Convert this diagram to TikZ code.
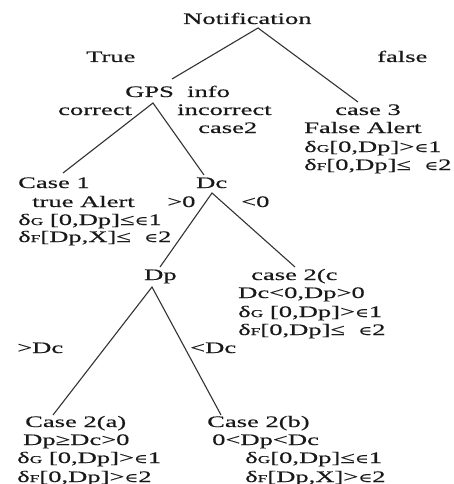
\documentclass[tikz,border=0pt]{standalone}
\usepackage{fontspec}
\setmainfont[FakeStretch=1.66,FakeBold=0.4]{Liberation Serif}
\newfontfamily\symfont[FakeStretch=1.5,FakeBold=0.4]{DejaVu Serif}
% element sign and the two small-index deltas
\newcommand\elt{{\symfont\fontsize{12.5}{12}\selectfont ∈}}
\newcommand\dG{δ{\fontsize{10.5}{10}\selectfont G}}
\newcommand\dF{δ{\fontsize{10.5}{10}\selectfont F}}
\begin{document}
\begin{tikzpicture}[x=1pt,y=-1pt,
  lbl/.style={anchor=base west, inner sep=0pt, text=black!90,
              font=\fontsize{16}{18}\selectfont},
  branch/.style={draw=black!80, line width=1.1pt}]
\useasboundingbox[fill=white] (0,0) rectangle (454,484);

% ---- root
\node[lbl] (notif) at (183,24) {Notification};
\node[lbl] (true)  at (86,62) {True};
\node[lbl] (false) at (377,62) {false};

% ---- GPS level
\node[lbl] (gps)       at (125,97)  {GPS\ \ info};
\node[lbl] (correct)   at (58,115)  {correct};
\node[lbl] (incorrect) at (177,115) {incorrect};
\node[lbl] (case2)     at (198,133) {case2};

% ---- case 3
\node[lbl] (case3)  at (335,115) {case 3};
\node[lbl] (falsea) at (304,133) {False Alert};
\node[lbl] (c3g)    at (304,152) {\dG[0,Dp]>\elt1};
\node[lbl] (c3f)    at (304,170) {\dF[0,Dp]≤\ \ \elt2};

% ---- case 1
\node[lbl] (case1)  at (18,188)  {Case 1};
\node[lbl] (truea)  at (32,207)  {true Alert};
\node[lbl] (c1g)    at (18,225)  {\dG\ [0,Dp]≤\elt1};
\node[lbl] (c1f)    at (18,242)  {\dF[Dp,X]≤\ \ \elt2};

% ---- Dc
\node[lbl] (dc)  at (196,188) {Dc};
\node[lbl] (gt0) at (167,207) {>0};
\node[lbl] (lt0) at (241,207) {<0};

% ---- Dp and case 2(c)
\node[lbl] (dp)      at (144,280) {Dp};
\node[lbl] (case2c)  at (251,280) {case 2(c};
\node[lbl] (c2cline) at (238,298) {Dc<0,Dp>0};
\node[lbl] (c2cg)    at (238,317) {\dG\ [0,Dp]>\elt1};
\node[lbl] (c2cf)    at (238,335) {\dF[0,Dp]≤\ \ \elt2};

\node[lbl] (gtdc) at (17,353)  {>Dc};
\node[lbl] (ltdc) at (190,353) {<Dc};

% ---- case 2(a) and 2(b)
\node[lbl] (case2a) at (25,427)  {Case 2(a)};
\node[lbl] (c2a1)   at (23,445)  {Dp≥Dc>0};
\node[lbl] (c2ag)   at (17,463)  {\dG\ [0,Dp]>\elt1};
\node[lbl] (c2af)   at (17,482)  {\dF[0,Dp]>\elt2};

\node[lbl] (case2b) at (207,427) {Case 2(b)};
\node[lbl] (c2b1)   at (212,445) {0<Dp<Dc};
\node[lbl] (c2bg)   at (245,463) {\dG[0,Dp]≤\elt1};
\node[lbl] (c2bf)   at (245,482) {\dF[Dp,X]>\elt2};

% ---- branch points and branch ends
\coordinate (notifA) at (258,28);
\coordinate (gpsT)   at (172,79);
\coordinate (case3T) at (358,102);
\coordinate (gpsA)   at (153,103);
\coordinate (case1T) at (63,173);
\coordinate (dcT)    at (204,175);
\coordinate (dcA)    at (212,193);
\coordinate (dpT)    at (160,267);
\coordinate (case2cT) at (295,267);
\coordinate (dpA)    at (152,287);
\coordinate (case2aT) at (53,415);
\coordinate (case2bT) at (221,415);

\draw[branch] (gpsT) -- (notifA) -- (case3T);
\draw[branch] (case1T) -- (gpsA) -- (dcT);
\draw[branch] (dpT) -- (dcA) -- (case2cT);
\draw[branch] (case2aT) -- (dpA) -- (case2bT);
\end{tikzpicture}
\end{document}
